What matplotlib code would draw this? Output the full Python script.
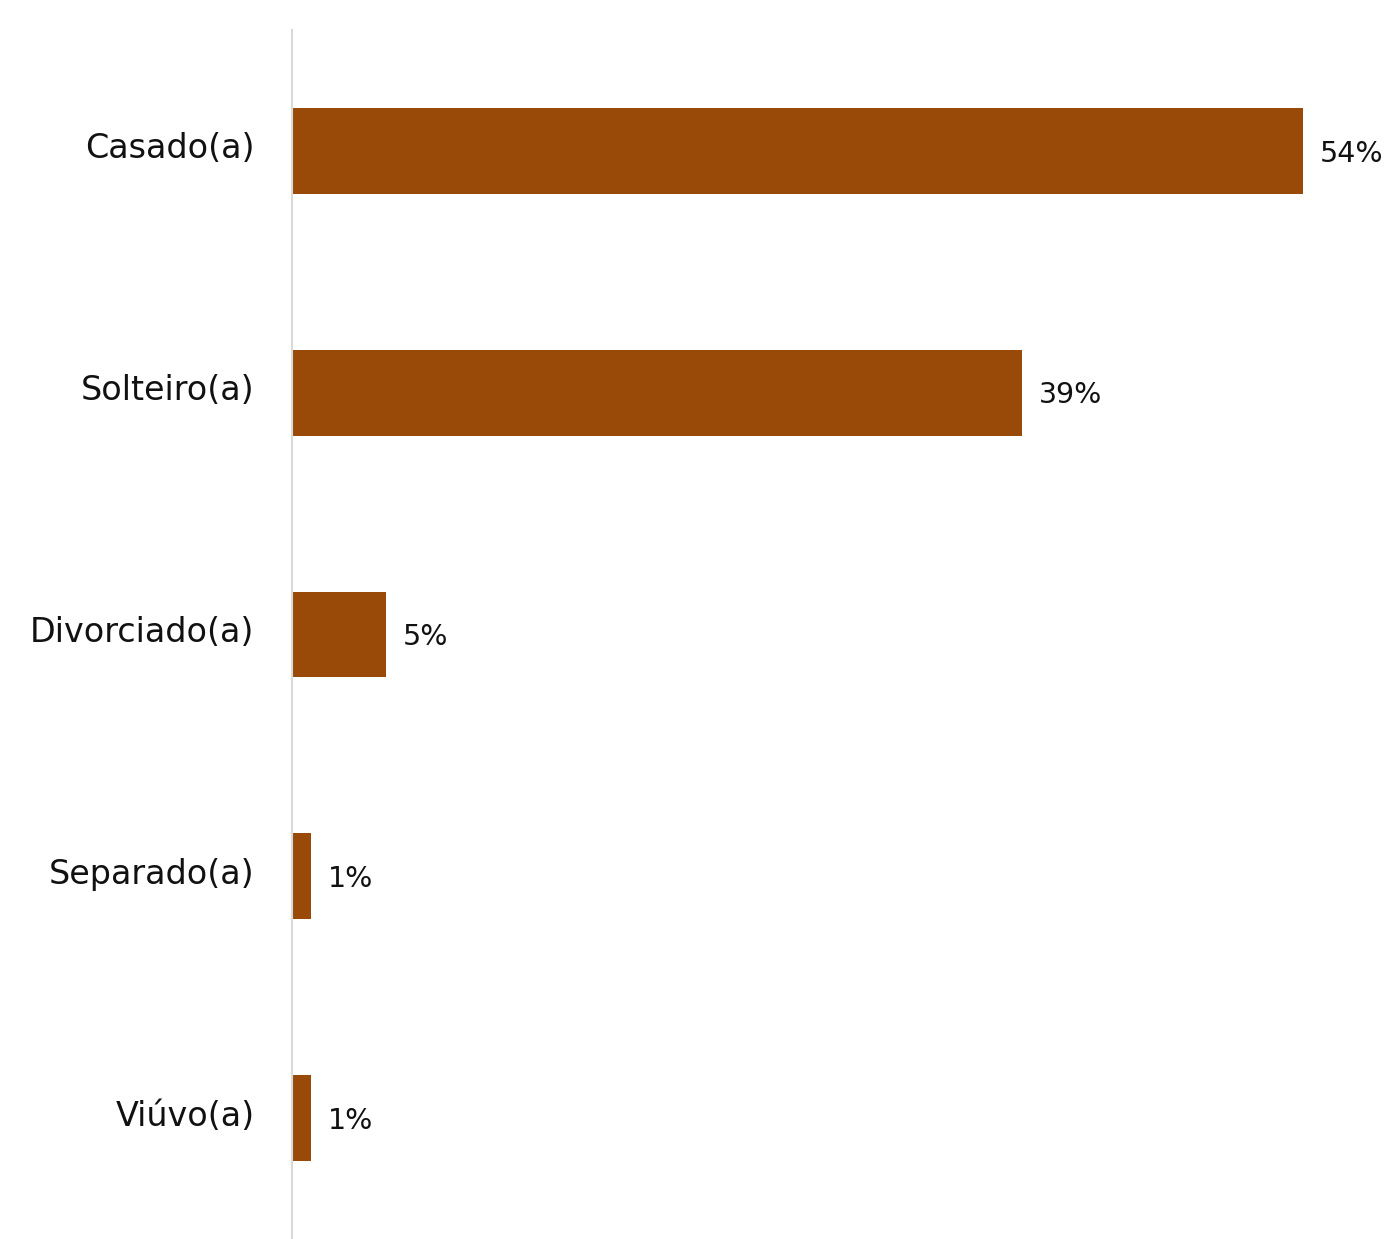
import matplotlib.pyplot as plt
from matplotlib.transforms import ScaledTranslation

categories = ["Casado(a)", "Solteiro(a)", "Divorciado(a)", "Separado(a)", "Viúvo(a)"]
values = [54, 39, 5, 1, 1]
labels = ["54%", "39%", "5%", "1%", "1%"]

BAR_COLOR = "#994a08"
W, H, DPI = 1391, 1239, 100

plt.rcParams["font.family"] = ["DejaVu Sans"]

fig = plt.figure(figsize=(W / DPI, H / DPI), dpi=DPI)
ax = fig.add_axes([292 / W, 0.0, 1 - 292 / W, 1 - 30 / H])

y = range(len(categories))
ax.barh(y, values, height=0.355, color=BAR_COLOR)
for yi, v, lab in zip(y, values, labels):
    ax.annotate(lab, (v, yi), xytext=(12, -2), textcoords="offset points",
                ha="left", va="center", fontsize=20.5, color="#111111")

ax.set_xlim(0, (W - 292) / 18.72)
ax.set_ylim(4.5, -0.5)
ax.set_yticks(list(y))
ax.set_yticklabels(categories, fontsize=24, color="#111111")
ax.tick_params(axis="y", length=0, pad=27)
shift = ScaledTranslation(0, 4 / 72, fig.dpi_scale_trans)
for t in ax.get_yticklabels():
    t.set_transform(t.get_transform() + shift)
ax.set_xticks([])
for side in ["top", "right", "bottom"]:
    ax.spines[side].set_visible(False)
ax.spines["left"].set_color("#d9d9d9")
ax.spines["left"].set_linewidth(1.5)

fig.savefig("out.png", dpi=DPI)
